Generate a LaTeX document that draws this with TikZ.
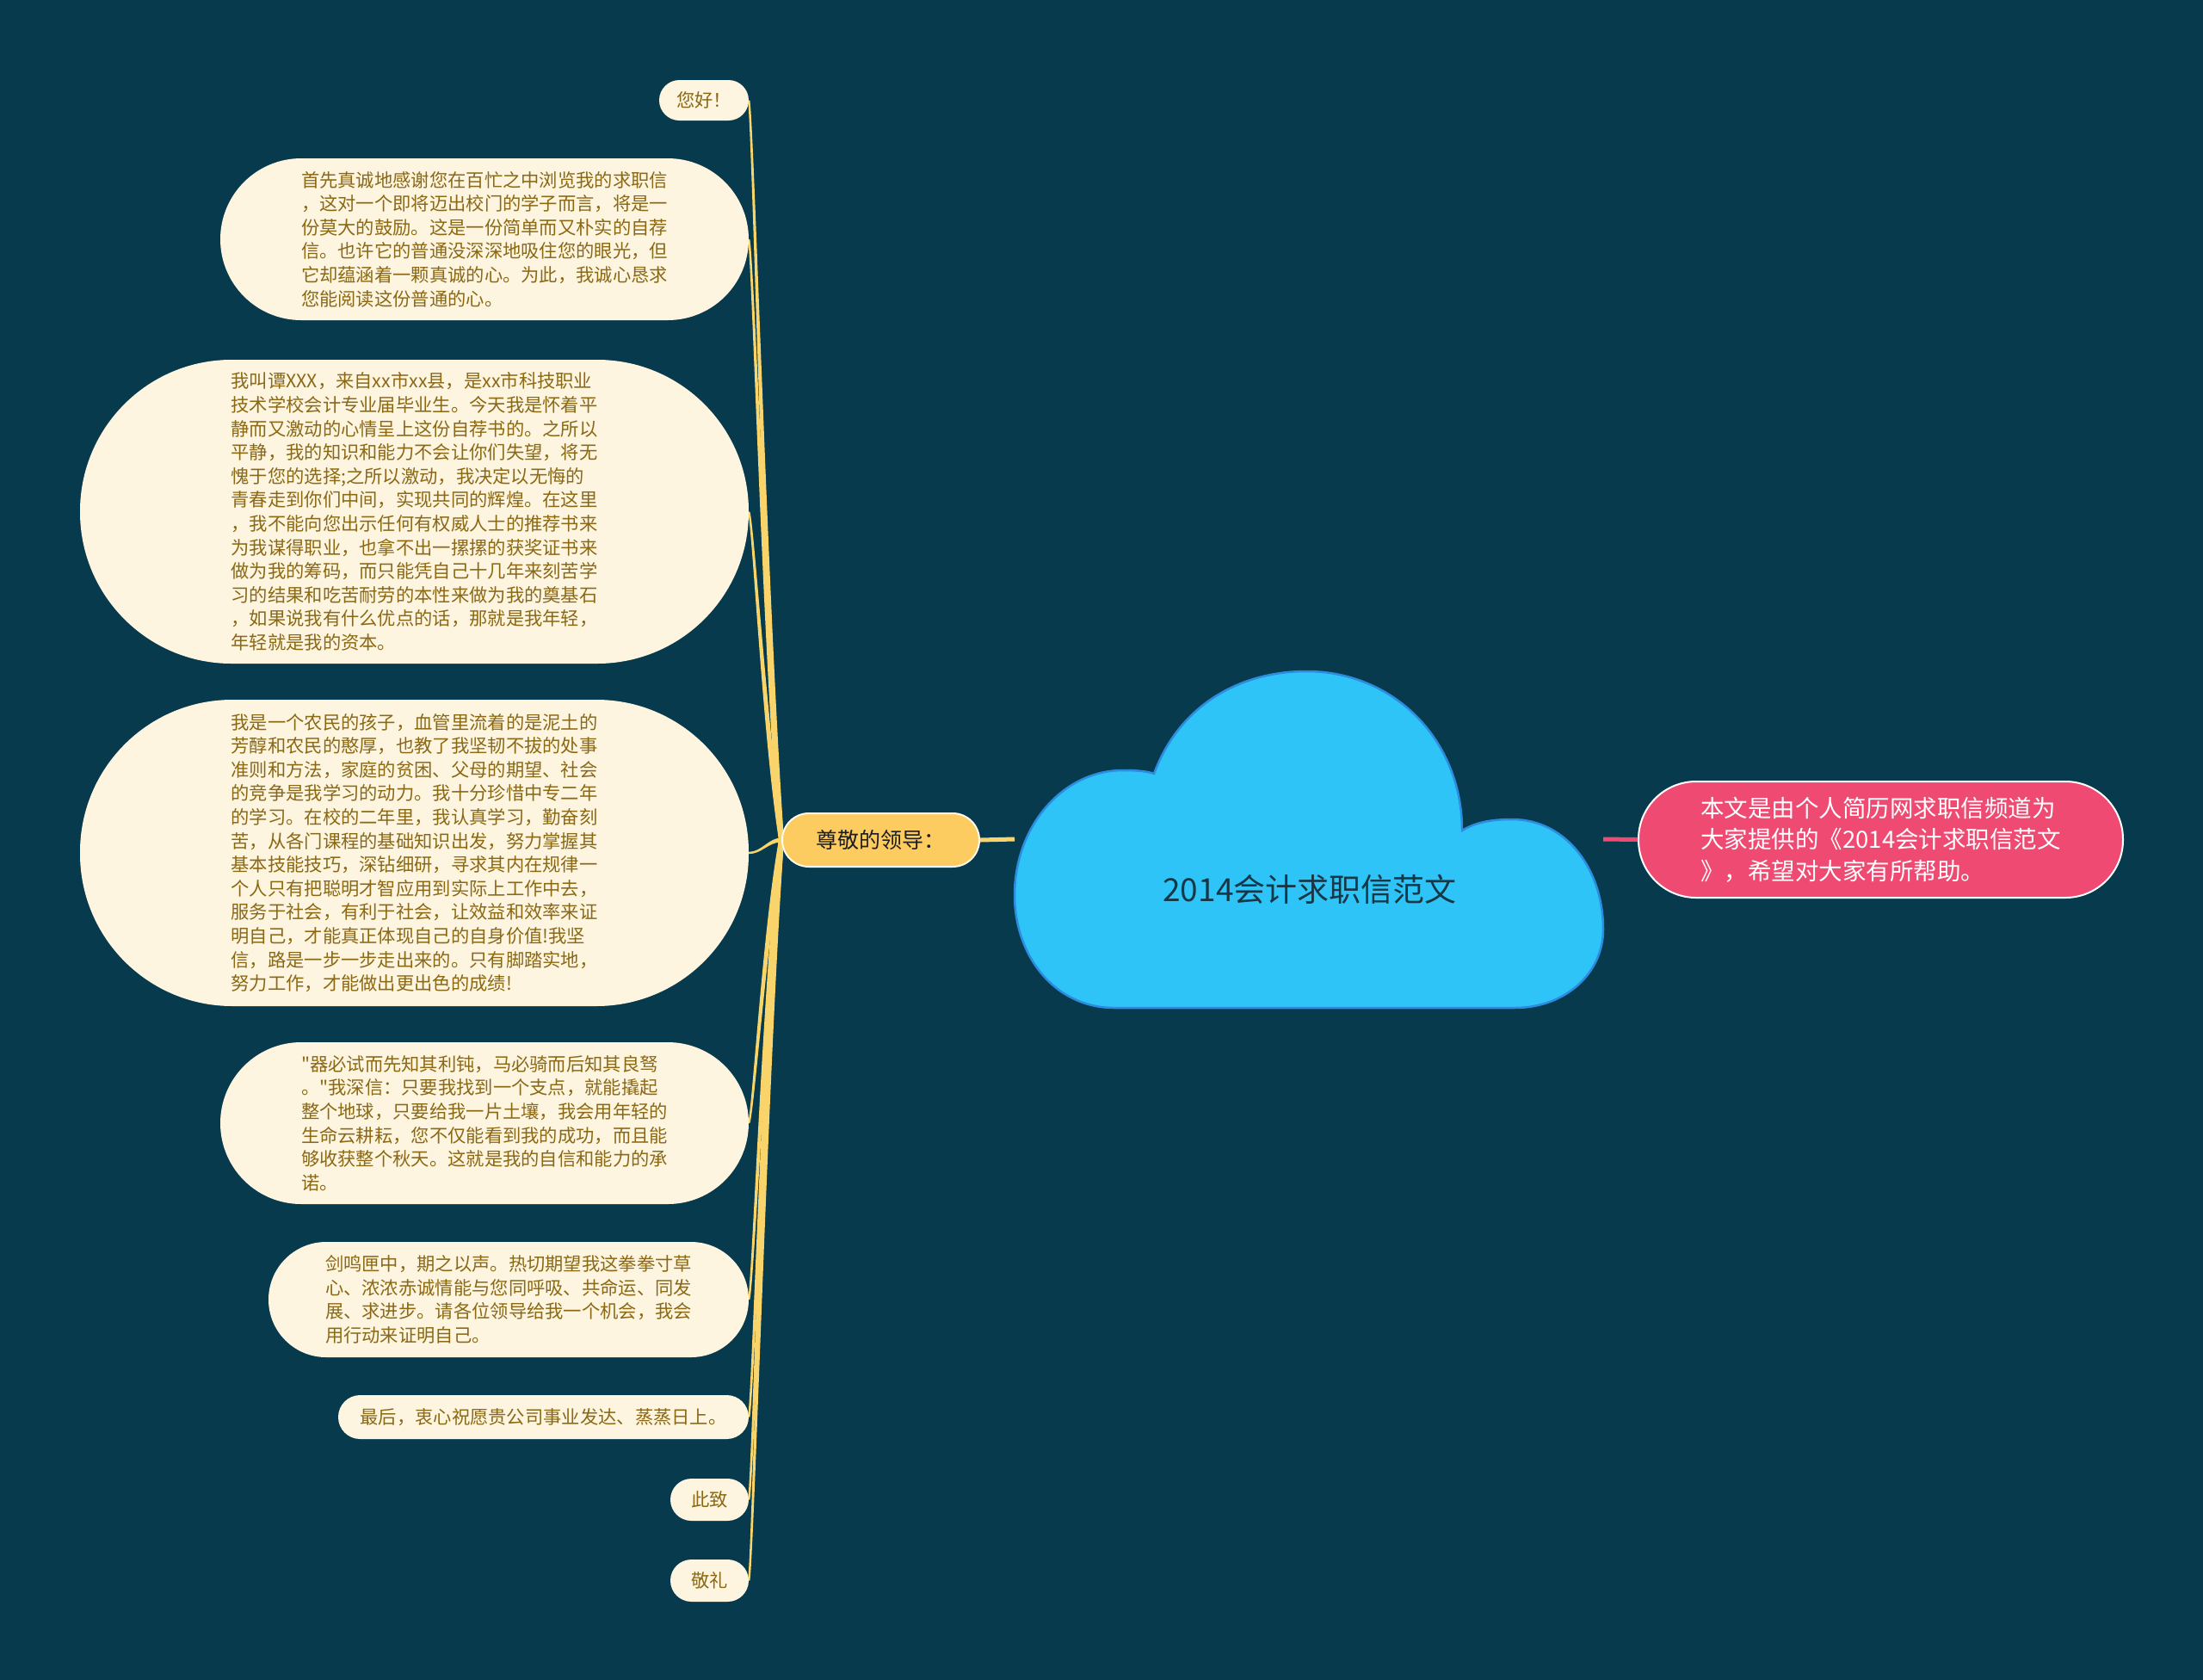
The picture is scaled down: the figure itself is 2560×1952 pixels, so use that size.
\documentclass[tikz,border=0pt]{standalone}
\usepackage{fontspec}
\setmainfont{Noto Sans CJK SC}[Ligatures=TeXOff]
\definecolor{bg}{RGB}{8,58,77}
\definecolor{cream}{RGB}{253,245,224}
\definecolor{leaftext}{RGB}{139,104,20}
\definecolor{branch}{RGB}{249,212,106}
\definecolor{leadfill}{RGB}{252,204,96}
\definecolor{cloudfill}{RGB}{47,196,247}
\definecolor{cloudline}{RGB}{44,140,224}
\definecolor{pinkfill}{RGB}{238,74,114}
\definecolor{titletext}{RGB}{22,55,70}
\pgfdeclarelayer{background}
\pgfsetlayers{background,main}
\tikzset{
  leaf/.style={rectangle, fill=cream, text=leaftext, align=left, inner sep=0pt,
    font=\fontsize{21.3}{27.6}\selectfont},
  conn/.style={fill=branch},
  leadbox/.style={rectangle, fill=leadfill, draw=white!90!leadfill, line width=2pt,
    text={rgb,255:red,30;green,30;blue,30}, font=\fontsize{25}{30}\selectfont, inner sep=0pt},
  pinkbox/.style={rectangle, fill=pinkfill, draw=white, line width=2pt, text=white,
    align=left, inner sep=0pt, font=\fontsize{27.5}{36.5}\selectfont},
}
\begin{document}
\begin{tikzpicture}[x=1pt,y=-1pt]
\useasboundingbox (0,0) rectangle (2560,1952);

% leaf nodes
\node[leaf, minimum width=104pt, minimum height=47pt, rounded corners=23.5pt] (n1) at (818,116.5) {您好！};
\node[leaf, minimum width=614pt, minimum height=188pt, rounded corners=94pt] (n2) at (563,278) {%
首先真诚地感谢您在百忙之中浏览我的求职信\\%
，这对一个即将迈出校门的学子而言，将是一\\%
份莫大的鼓励。这是一份简单而又朴实的自荐\\%
信。也许它的普通没深深地吸住您的眼光，但\\%
它却蕴涵着一颗真诚的心。为此，我诚心恳求\\%
您能阅读这份普通的心。};
\node[leaf, minimum width=777pt, minimum height=353pt, rounded corners=176pt] (n3) at (481.5,594.5) {%
我叫谭XXX，来自xx市xx县，是xx市科技职业\\%
技术学校会计专业届毕业生。今天我是怀着平\\%
静而又激动的心情呈上这份自荐书的。之所以\\%
平静，我的知识和能力不会让你们失望，将无\\%
愧于您的选择;之所以激动，我决定以无悔的\\%
青春走到你们中间，实现共同的辉煌。在这里\\%
，我不能向您出示任何有权威人士的推荐书来\\%
为我谋得职业，也拿不出一摞摞的获奖证书来\\%
做为我的筹码，而只能凭自己十几年来刻苦学\\%
习的结果和吃苦耐劳的本性来做为我的奠基石\\%
，如果说我有什么优点的话，那就是我年轻，\\%
年轻就是我的资本。};
\node[leaf, minimum width=777pt, minimum height=356pt, rounded corners=177pt] (n4) at (481.5,991) {%
我是一个农民的孩子，血管里流着的是泥土的\\%
芳醇和农民的憨厚，也教了我坚韧不拔的处事\\%
准则和方法，家庭的贫困、父母的期望、社会\\%
的竞争是我学习的动力。我十分珍惜中专二年\\%
的学习。在校的二年里，我认真学习，勤奋刻\\%
苦，从各门课程的基础知识出发，努力掌握其\\%
基本技能技巧，深钻细研，寻求其内在规律一\\%
个人只有把聪明才智应用到实际上工作中去，\\%
服务于社会，有利于社会，让效益和效率来证\\%
明自己，才能真正体现自己的自身价值!我坚\\%
信，路是一步一步走出来的。只有脚踏实地，\\%
努力工作，才能做出更出色的成绩!};
\node[leaf, minimum width=614pt, minimum height=188pt, rounded corners=94pt] (n5) at (563,1305) {%
"器必试而先知其利钝，马必骑而后知其良驽\\%
。"我深信：只要我找到一个支点，就能撬起\\%
整个地球，只要给我一片土壤，我会用年轻的\\%
生命云耕耘，您不仅能看到我的成功，而且能\\%
够收获整个秋天。这就是我的自信和能力的承\\%
诺。};
\node[leaf, minimum width=558pt, minimum height=134pt, rounded corners=67pt] (n6) at (591,1510) {%
剑鸣匣中，期之以声。热切期望我这拳拳寸草\\%
心、浓浓赤诚情能与您同呼吸、共命运、同发\\%
展、求进步。请各位领导给我一个机会，我会\\%
用行动来证明自己。};
\node[leaf, minimum width=477pt, minimum height=51pt, rounded corners=25.5pt] (n7) at (631.5,1646.5) {最后，衷心祝愿贵公司事业发达、蒸蒸日上。};
\node[leaf, minimum width=91pt, minimum height=49pt, rounded corners=24.5pt] (n8) at (824.5,1742.5) {此致};
\node[leaf, minimum width=91pt, minimum height=49pt, rounded corners=24.5pt] (n9) at (824.5,1836.5) {敬礼};

% lead node
\node[leadbox, minimum width=229pt, minimum height=62pt, rounded corners=31pt] (lead) at (1023.5,976) {尊敬的领导：};

% background and tapered connectors (under the nodes)
\begin{pgfonlayer}{background}
\fill[bg] (0,0) rectangle (2560,1952);
\fill[conn] ([xshift=-3pt]lead.west) .. controls +(-19,-275) and +(5,34) .. ([xshift=-1.2pt]n1.east)
  -- ([xshift=1.2pt]n1.east) .. controls +(5,34) and +(-19,-275) .. ([xshift=3pt]lead.west) -- cycle;
\fill[conn] ([xshift=-3pt]lead.west) .. controls +(-19,-223) and +(5,28) .. ([xshift=-1.2pt]n2.east)
  -- ([xshift=1.2pt]n2.east) .. controls +(5,28) and +(-19,-223) .. ([xshift=3pt]lead.west) -- cycle;
\fill[conn] ([xshift=-3pt]lead.west) .. controls +(-19,-122) and +(5,15) .. ([xshift=-1.2pt]n3.east)
  -- ([xshift=1.2pt]n3.east) .. controls +(5,15) and +(-19,-122) .. ([xshift=3pt]lead.west) -- cycle;
\fill[conn] ([yshift=-2.5pt]lead.west) .. controls +(-15,0) and +(15,0) .. ([yshift=-1.2pt]n4.east)
  -- ([yshift=1.2pt]n4.east) .. controls +(15,0) and +(-15,0) .. ([yshift=2.5pt]lead.west) -- cycle;
\fill[conn] ([xshift=-3pt]lead.west) .. controls +(-19,105) and +(5,-13) .. ([xshift=-1.2pt]n5.east)
  -- ([xshift=1.2pt]n5.east) .. controls +(5,-13) and +(-19,105) .. ([xshift=3pt]lead.west) -- cycle;
\fill[conn] ([xshift=-3pt]lead.west) .. controls +(-19,171) and +(5,-21) .. ([xshift=-1.2pt]n6.east)
  -- ([xshift=1.2pt]n6.east) .. controls +(5,-21) and +(-19,171) .. ([xshift=3pt]lead.west) -- cycle;
\fill[conn] ([xshift=-3pt]lead.west) .. controls +(-19,215) and +(5,-27) .. ([xshift=-1.2pt]n7.east)
  -- ([xshift=1.2pt]n7.east) .. controls +(5,-27) and +(-19,215) .. ([xshift=3pt]lead.west) -- cycle;
\fill[conn] ([xshift=-3pt]lead.west) .. controls +(-19,245) and +(5,-31) .. ([xshift=-1.2pt]n8.east)
  -- ([xshift=1.2pt]n8.east) .. controls +(5,-31) and +(-19,245) .. ([xshift=3pt]lead.west) -- cycle;
\fill[conn] ([xshift=-3pt]lead.west) .. controls +(-19,275) and +(5,-34) .. ([xshift=-1.2pt]n9.east)
  -- ([xshift=1.2pt]n9.east) .. controls +(5,-34) and +(-19,275) .. ([xshift=3pt]lead.west) -- cycle;
\end{pgfonlayer}

% cloud
\coordinate (cloudL) at (1179,975);
\coordinate (cloudR) at (1863,975);
\draw[branch, line width=5pt] (lead.east) -- (cloudL);
\filldraw[fill=cloudfill, draw=cloudline, line width=2.5pt]
  (1295,1171) .. controls (1225,1171) and (1179,1110) .. (1179,1040)
  .. controls (1179,960) and (1235,895) .. (1305,895)
  .. controls (1320,895) and (1333,896) .. (1341,899)
  .. controls (1370,820) and (1440,780) .. (1518,780)
  .. controls (1620,780) and (1699,860) .. (1699,965)
  .. controls (1715,955) and (1735,952) .. (1757,952)
  .. controls (1820,952) and (1863,1010) .. (1863,1080)
  .. controls (1863,1130) and (1820,1171) .. (1760,1171)
  -- cycle;
\node[text=titletext, font=\fontsize{37}{44}\selectfont] (title) at (1522,1033) {2014会计求职信范文};

% pink node
\node[pinkbox, minimum width=563pt, minimum height=135pt, rounded corners=67pt] (pink) at (2185.5,975.5) {%
本文是由个人简历网求职信频道为\\%
大家提供的《2014会计求职信范文\\%
》，希望对大家有所帮助。};
\draw[pinkfill, line width=5pt] (cloudR) -- (pink.west);
\end{tikzpicture}
\end{document}
